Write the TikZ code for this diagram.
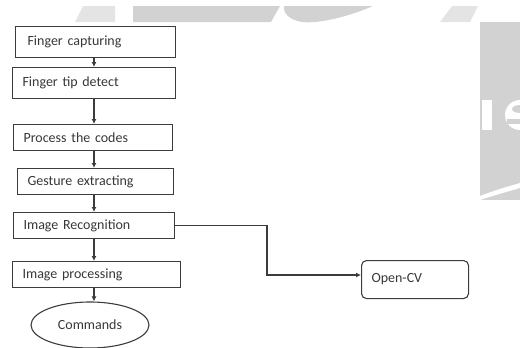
\documentclass[tikz,border=0pt]{standalone}
\usepackage{fontspec}
\setmainfont{Carlito}
\usetikzlibrary{shapes.geometric,arrows.meta}
\definecolor{linecol}{RGB}{60,60,60}
\definecolor{txtcol}{RGB}{55,55,55}
\definecolor{wm}{RGB}{210,210,210}
\definecolor{wmlight}{RGB}{228,228,228}
\tikzset{
  lbl/.style={font=\fontsize{14}{16}\selectfont, text=txtcol},
  box/.style={draw=linecol, line width=1.1pt, anchor=north west, align=left,
    inner xsep=10pt, inner ysep=0pt, lbl},
  arr/.style={draw=linecol, line width=1.1pt, -{Latex[length=5pt,width=5pt]}},
}
\begin{document}
\begin{tikzpicture}[x=1pt,y=-1pt]
\useasboundingbox (0,0) rectangle (520,348);
% watermark background
\begin{scope}
\clip (0,0) rectangle (520,348);
\fill[wmlight] (83,6) -- (115,6) -- (115,22) -- (75,22) -- cycle;
\fill[wm] (133,6) -- (280,6) -- (271,22) -- (133,22) -- cycle;
\fill[wm] (284,6) -- (373,6) .. controls (350,16) and (320,24) .. (302,22) .. controls (290,20) and (283,14) .. (284,6) -- cycle;
\fill[wmlight] (452,6) -- (478,6) -- (470,22) -- (440,22) -- cycle;
\fill[wm] (480,22) rectangle (520,200);
\fill[white] (482,100) rectangle (492,130);
\fill[white] (520,115) circle[radius=15];
\fill[wm] (520,109) ellipse[x radius=8, y radius=4];
\fill[wm] (507,119) rectangle (520,124);
\fill[white] (480,196) .. controls (495,190) and (510,186) .. (520,183) -- (520,188) .. controls (510,191) and (495,195) .. (480,200) -- cycle;
\end{scope}
% column coordinate
\coordinate (ax) at (94,0);
% boxes
\node[box, minimum width=160pt, minimum height=31pt, text width=136pt, inner xsep=12pt] (b1) at (15,26) {Finger capturing};
\node[box, minimum width=163pt, minimum height=31pt, text width=143pt] (b2) at (12,67) {Finger tip detect};
\node[box, minimum width=159pt, minimum height=26pt, text width=139pt] (b3) at (13,124) {Process the codes};
\node[box, minimum width=156pt, minimum height=26pt, text width=136pt] (b4) at (17,168) {Gesture extracting};
\node[box, minimum width=161pt, minimum height=26pt, text width=141pt] (b5) at (13,212) {Image Recognition};
\node[box, minimum width=168pt, minimum height=26pt, text width=148pt] (b6) at (12,261) {Image processing};
\node[draw=linecol, line width=1.1pt, ellipse, minimum width=118pt, minimum height=46pt, inner sep=0pt,
  lbl] (cmd) at (90,325) {Commands};
\node[draw=linecol, line width=1.1pt, rounded corners=5pt, anchor=north west, minimum width=107pt,
  minimum height=38pt, text width=87pt, inner xsep=10pt, align=left, lbl] (cv) at (361,260) {Open-CV};
% connectors
\draw[arr] (b1.south -| ax) -- (b2.north -| ax);
\draw[arr] (b2.south -| ax) -- (b3.north -| ax);
\draw[arr] (b3.south -| ax) -- (b4.north -| ax);
\draw[arr] (b4.south -| ax) -- (b5.north -| ax);
\draw[arr] (b5.south -| ax) -- (b6.north -| ax);
\draw[arr] (b6.south -| ax) -- (cmd.north -| ax);
\coordinate (turn) at (267,0);
\coordinate (cvin) at (361,275);
\draw[arr] (b5.east) -- (b5.east -| turn) -- (cvin -| turn) -- (cvin);
\end{tikzpicture}
\end{document}
